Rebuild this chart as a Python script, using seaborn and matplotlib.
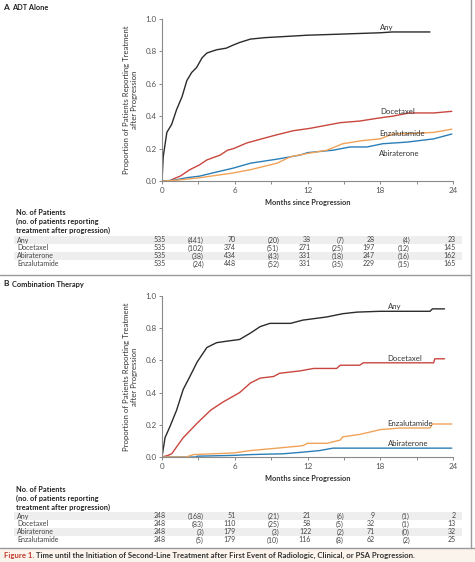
import matplotlib
matplotlib.use("Agg")
import matplotlib.pyplot as plt
import seaborn as sns
import pandas as pd
from matplotlib.lines import Line2D
from matplotlib.patches import Rectangle

sns.set_theme(style="white")
plt.rcParams['font.family'] = ['Lato', 'DejaVu Sans']

# ---------------- data ----------------
series_names = ["Any", "Docetaxel", "Abiraterone", "Enzalutamide"]
colors = {"Any": "#2b2b2b", "Docetaxel": "#c9463d", "Abiraterone": "#2a7fb8", "Enzalutamide": "#f0a358"}

# Panel A (ADT alone)
a_any_m = [0, 0.1, 0.4, 0.8, 1.2, 1.65, 2.05, 2.45, 2.85, 3.3, 3.7, 4.5, 5.3, 5.9, 6.4, 7.3, 8.5, 9.7, 12, 14.1, 16, 18, 19, 22.1]
a_any_p = [0, 0.15, 0.30, 0.35, 0.44, 0.52, 0.62, 0.67, 0.70, 0.76, 0.79, 0.81, 0.82, 0.84, 0.855, 0.876, 0.885, 0.89, 0.90, 0.905, 0.91, 0.915, 0.92, 0.92]
a_doc_m = [0, 0.6, 1.0, 1.5, 2.3, 3.1, 3.7, 4.8, 5.4, 5.9, 7, 9.2, 10.8, 12.2, 14.7, 16.3, 18, 19, 20.4, 22.4, 23.9]
a_doc_p = [0, 0, 0.015, 0.03, 0.07, 0.10, 0.13, 0.16, 0.19, 0.20, 0.235, 0.28, 0.31, 0.325, 0.36, 0.37, 0.39, 0.40, 0.42, 0.42, 0.43]
a_enz_m = [0, 1, 3.1, 5.9, 7.3, 9.5, 10.6, 12, 13.6, 14.9, 16.6, 18, 19, 21, 22.4, 23.9]
a_enz_p = [0, 0.003, 0.02, 0.05, 0.07, 0.11, 0.15, 0.17, 0.19, 0.23, 0.25, 0.26, 0.29, 0.295, 0.30, 0.32]
a_abi_m = [0, 1, 2, 3.1, 4.2, 5.9, 7.3, 9.5, 11.4, 12, 14.1, 15.5, 16.9, 18.2, 20.2, 22.4, 23.9]
a_abi_p = [0, 0.005, 0.02, 0.03, 0.05, 0.08, 0.11, 0.135, 0.16, 0.175, 0.19, 0.21, 0.21, 0.23, 0.24, 0.26, 0.29]

# Panel B (combination therapy)
b_any_m = [0, 0.25, 0.66, 1.2, 1.75, 2.3, 2.9, 3.7, 4.5, 5.4, 6.4, 7.3, 8.1, 8.9, 10.6, 11.6, 13.6, 14.9, 16.1, 18, 22.1, 22.3, 23.3]
b_any_p = [0, 0.12, 0.19, 0.29, 0.42, 0.50, 0.59, 0.68, 0.71, 0.72, 0.73, 0.77, 0.81, 0.83, 0.83, 0.85, 0.87, 0.89, 0.90, 0.905, 0.905, 0.92, 0.92]
b_doc_m = [0, 0.5, 0.8, 1.75, 2.9, 4, 5, 6.4, 7.3, 8.1, 9.2, 9.7, 11.4, 12.5, 14.4, 14.7, 16.3, 16.6, 22.4, 22.5, 23.3]
b_doc_p = [0, 0.01, 0.02, 0.12, 0.21, 0.29, 0.34, 0.40, 0.46, 0.49, 0.50, 0.52, 0.535, 0.55, 0.55, 0.57, 0.57, 0.585, 0.585, 0.61, 0.61]
b_enz_m = [0, 2.0, 2.6, 5.9, 7.3, 9.5, 11.6, 12, 13.6, 14.7, 14.9, 16.3, 18, 19.6, 22.1, 22.3, 23.9]
b_enz_p = [0, 0, 0.015, 0.025, 0.04, 0.055, 0.07, 0.085, 0.085, 0.105, 0.125, 0.14, 0.17, 0.18, 0.18, 0.205, 0.205]
b_abi_m = [0, 2.8, 2.9, 5.9, 7.3, 10, 11.6, 13, 14.1, 23.9]
b_abi_p = [0, 0, 0.005, 0.01, 0.015, 0.02, 0.03, 0.04, 0.055, 0.055]

# Number-at-risk tables
table_a = {
    "Any":          ["535", "(441)", "70", "(20)", "38", "(7)", "28", "(4)", "23"],
    "Docetaxel":    ["535", "(102)", "374", "(51)", "271", "(25)", "197", "(12)", "145"],
    "Abiraterone":  ["535", "(38)", "434", "(43)", "331", "(18)", "247", "(16)", "162"],
    "Enzalutamide": ["535", "(24)", "448", "(52)", "331", "(35)", "229", "(15)", "165"],
}
table_b = {
    "Any":          ["248", "(168)", "51", "(21)", "21", "(6)", "9", "(1)", "2"],
    "Docetaxel":    ["248", "(83)", "110", "(25)", "58", "(5)", "32", "(1)", "13"],
    "Abiraterone":  ["248", "(3)", "179", "(3)", "122", "(2)", "71", "(0)", "32"],
    "Enzalutamide": ["248", "(5)", "179", "(10)", "116", "(8)", "62", "(2)", "25"],
}
x_ticks = [0, 6, 12, 18, 24]


def make_df(d):
    rows = []
    for name, (m, p) in d.items():
        for mi, pi in zip(m, p):
            rows.append({"Months": mi, "Proportion": pi, "Treatment": name})
    return pd.DataFrame(rows)


df_a = make_df({"Any": (a_any_m, a_any_p), "Docetaxel": (a_doc_m, a_doc_p),
                "Abiraterone": (a_abi_m, a_abi_p), "Enzalutamide": (a_enz_m, a_enz_p)})
df_b = make_df({"Any": (b_any_m, b_any_p), "Docetaxel": (b_doc_m, b_doc_p),
                "Abiraterone": (b_abi_m, b_abi_p), "Enzalutamide": (b_enz_m, b_enz_p)})

W, H = 475, 562
fig = plt.figure(figsize=(W / 100, H / 100), dpi=100)
fig.patch.set_facecolor("white")


def fx(px):
    return px / W


def fy(py):
    return 1 - py / H


def style_axes(ax):
    ax.set_xlim(0, 24)
    ax.set_ylim(0, 1.0)
    ax.set_xticks(x_ticks)
    ax.set_xticks([3, 9, 15, 21], minor=True)
    ax.set_yticks([0, 0.2, 0.4, 0.6, 0.8, 1.0])
    ax.set_yticklabels(["0.0", "0.2", "0.4", "0.6", "0.8", "1.0"])
    for s in ["top", "right"]:
        ax.spines[s].set_visible(False)
    for s in ["left", "bottom"]:
        ax.spines[s].set_color("#8a8a8a")
        ax.spines[s].set_linewidth(0.8)
    ax.tick_params(axis="both", which="both", direction="out", colors="#8a8a8a",
                   labelcolor="#555555", labelsize=5.8, length=2.5, width=0.7, pad=1.5, bottom=True, left=True)
    ax.tick_params(axis="x", which="minor", length=2)
    ax.set_xlabel("Months since Progression", fontsize=5.3, fontweight="bold", color="#333333", labelpad=4)
    ax.set_ylabel("Proportion of Patients Reporting Treatment\nafter Progression", fontsize=5.6,
                  color="#333333", labelpad=5, linespacing=1.3)
    ax.set_facecolor("white")


def draw_panel(ax, df, label_pos):
    sns.lineplot(data=df, x="Months", y="Proportion", hue="Treatment", palette=colors,
                 hue_order=series_names, estimator=None, sort=False, linewidth=1.0,
                 legend=False, ax=ax)
    for name, (x, y) in label_pos.items():
        ax.text(x, y, name, fontsize=5.6, color="#333333", ha="left", va="bottom")
    style_axes(ax)


ax_a = fig.add_axes([fx(162), fy(181), fx(453) - fx(162), fy(19) - fy(181)])
draw_panel(ax_a, df_a, {"Any": (18.0, 0.925), "Docetaxel": (18.0, 0.405),
                        "Enzalutamide": (17.9, 0.27), "Abiraterone": (17.9, 0.15)})

ax_b = fig.add_axes([fx(162), fy(457), fx(453) - fx(162), fy(296) - fy(457)])
draw_panel(ax_b, df_b, {"Any": (18.6, 0.91), "Docetaxel": (18.6, 0.59),
                        "Enzalutamide": (18.6, 0.185), "Abiraterone": (18.6, 0.06)})

# panel titles
fig.text(fx(3), fy(8), "A", fontsize=6, fontweight="bold", color="#222222", va="center")
fig.text(fx(12), fy(8), "ADT Alone", fontsize=5.3, fontweight="bold", color="#222222", va="center")
fig.text(fx(3), fy(284), "B", fontsize=6, fontweight="bold", color="#222222", va="center")
fig.text(fx(12), fy(284), "Combination Therapy", fontsize=5.3, fontweight="bold", color="#222222", va="center")

# tables
col_right_px = [166, 204, 236, 279, 311, 344, 375, 410, 456]


def draw_table(table, header_y, row_ys):
    hdr = ["No. of Patients", "(no. of patients reporting", "treatment after progression)"]
    for i, t in enumerate(hdr):
        fig.text(fx(16), fy(header_y + 8.5 * i), t, fontsize=5.3, fontweight="bold",
                 color="#222222", va="center")
    for i, name in enumerate(series_names):
        y = row_ys[i]
        if i % 2 == 0:
            fig.patches.append(Rectangle((fx(14), fy(y + 3.8)), fx(462) - fx(14), fy(y - 3.8) - fy(y + 3.8),
                                         transform=fig.transFigure, facecolor="#eeeeee",
                                         edgecolor="none", zorder=0))
        fig.text(fx(17), fy(y), name, fontsize=5.0, color="#444444", va="center")
        for v, xr in zip(table[name], col_right_px):
            fig.text(fx(xr), fy(y), v, fontsize=5.0, color="#444444", va="center", ha="right")


draw_table(table_a, 213, [240, 248, 256, 264])
draw_table(table_b, 490, [516, 524, 532, 540])

# frame lines
line_col = "#9a9a9a"
fig.lines.append(Line2D([fx(0), fx(471)], [fy(275), fy(275)], transform=fig.transFigure, color=line_col, lw=1.0))
fig.lines.append(Line2D([fx(471), fx(471)], [fy(0), fy(548)], transform=fig.transFigure, color=line_col, lw=1.0))
fig.patches.append(Rectangle((0, 0), 1, fy(548), transform=fig.transFigure,
                             facecolor="#fbf4ec", edgecolor="none", zorder=0))
fig.lines.append(Line2D([fx(0), fx(475)], [fy(548), fy(548)], transform=fig.transFigure, color=line_col, lw=1.0))

fig.text(fx(4), fy(555.5), "Figure 1.", fontsize=5.6, fontweight="bold", color="#c0392b", va="center")
fig.text(fx(36), fy(555.5), "Time until the Initiation of Second-Line Treatment after First Event of Radiologic, Clinical, or PSA Progression.",
         fontsize=5.6, fontweight="bold", color="#333333", va="center")

fig.savefig("out.png", dpi=100, facecolor="white")
